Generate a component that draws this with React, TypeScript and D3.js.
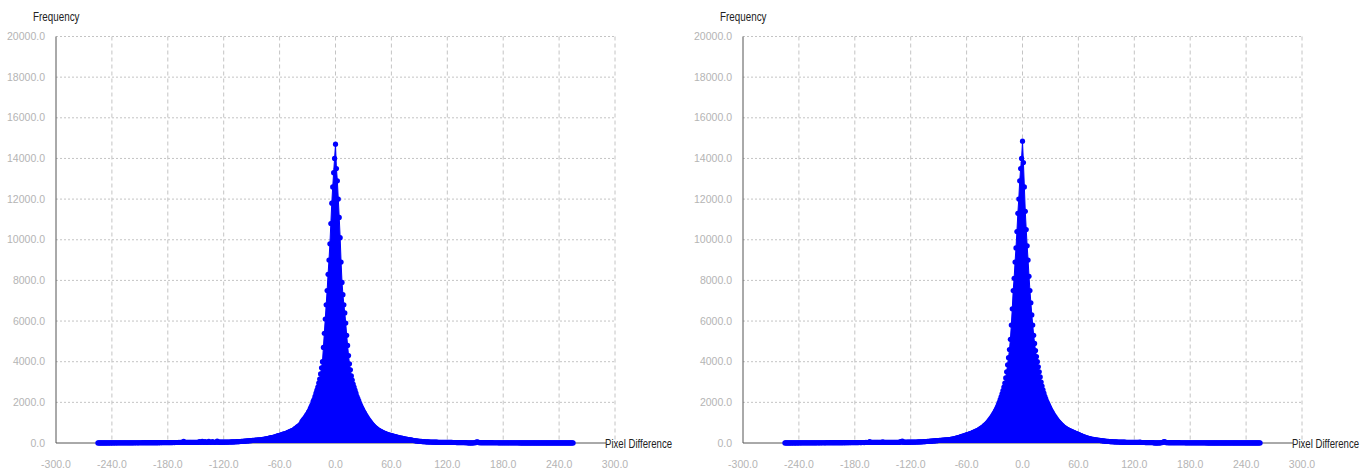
import React from "react";
import { select, scaleLinear, area, line } from "d3";

// x ticks and y ticks as printed on the chart
const pixelDiffTicks = [-300, -240, -180, -120, -60, 0, 60, 120, 180, 240, 300];
const freqTicks = [0, 2000, 4000, 6000, 8000, 10000, 12000, 14000, 16000, 18000, 20000];

// ---- left histogram ----
// -255 .. -81
const leftNegTail = [
  4, 3, 5, 4, 4, 5, 6, 4, 5, 6, 5, 6, 7, 5, 6, 7, 6, 7, 8, 6,
  7, 8, 7, 8, 9, 7, 8, 9, 8, 9, 10, 9, 10, 11, 9, 10, 11, 10, 11, 12,
  11, 12, 13, 11, 12, 13, 12, 13, 14, 13, 14, 15, 13, 14, 15, 14, 15, 16, 15, 16,
  17, 16, 17, 18, 17, 18, 19, 18, 19, 20, 19, 20, 21, 20, 21, 22, 21, 22, 23, 22,
  23, 24, 23, 24, 25, 24, 25, 26, 25, 26, 27, 26, 80, 27, 28, 27, 28, 29, 28, 29,
  30, 29, 30, 31, 30, 31, 32, 31, 32, 70, 33, 32, 85, 33, 34, 75, 34, 35, 34, 80,
  36, 35, 36, 65, 37, 38, 37, 38, 95, 39, 40, 39, 41, 42, 41, 43, 44, 43, 45, 46,
  47, 48, 50, 51, 53, 55, 57, 59, 61, 63, 66, 69, 72, 75, 78, 81, 85, 89, 93, 97,
  101, 105, 109, 113, 117, 121, 125, 129, 133, 137, 141, 145, 149, 153, 157,
];
// -80 .. 80
const leftCore = [
  160, 167, 175, 182, 190, 200, 210, 220, 230, 240, 250, 260, 270, 280, 290, 305, 320, 335, 350, 365,
  380, 390, 405, 420, 435, 450, 465, 480, 500, 520, 540, 560, 580, 600, 620, 640, 680, 720, 750, 790,
  820, 860, 890, 950, 1050, 1110, 1170, 1230, 1300, 1370, 1440, 1520, 1600, 1700, 1800, 1900, 2050, 2150, 2300, 2450,
  2600, 2750, 2950, 3150, 3400, 3700, 4000, 4700, 5400, 6100, 6800, 7500, 8300, 9000, 9800, 10800, 11800, 12600, 13300, 14000,
  14700,
  13500, 12900, 12000, 11100, 10100, 8900, 7900, 7300, 6800, 6400, 5900, 5300, 4800, 4300, 3900, 3600, 3300, 3100, 2900, 2750,
  2600, 2450, 2300, 2180, 2070, 1950, 1840, 1740, 1650, 1560, 1480, 1400, 1320, 1250, 1180, 1110, 1050, 990, 930, 880,
  830, 785, 745, 705, 670, 640, 610, 585, 560, 535, 512, 490, 470, 452, 435, 418, 402, 388, 374, 360,
  347, 334, 322, 310, 298, 287, 276, 265, 255, 245, 235, 225, 215, 206, 197, 188, 180, 172, 165, 158,
];
// 81 .. 255
const leftPosTail = [
  150, 140, 130, 122, 115, 108, 102, 96, 90, 85, 80, 76, 72, 68, 65, 62, 59, 56, 54, 52,
  50, 48, 46, 45, 44, 42, 41, 40, 39, 38, 37, 36, 35, 34, 33, 32, 31, 30, 30, 29,
  28, 28, 27, 26, 26, 25, 25, 24, 24, 23, 23, 22, 22, 21, 21, 20, 20, 19, 19, 18,
  12, 10, 8, 6, 5, 6, 8, 10, 12, 18, 45, 60, 50, 20, 18, 18, 17, 17, 17, 16,
  16, 16, 15, 15, 15, 14, 14, 14, 13, 13, 13, 12, 12, 12, 11, 11, 11, 10, 10, 10,
  10, 10, 9, 9, 9, 9, 8, 8, 8, 8, 8, 7, 7, 7, 7, 7, 7, 6, 6, 6,
  6, 6, 6, 6, 5, 5, 5, 5, 5, 5, 5, 5, 4, 4, 4, 4, 4, 4, 4, 4,
  4, 4, 4, 4, 3, 3, 3, 3, 3, 3, 3, 3, 3, 3, 3, 3, 2, 2, 2, 2,
  2, 2, 2, 2, 2, 2, 2, 2, 2, 2, 2, 2, 2, 2, 2,
];

// ---- right histogram ----
const rightNegTail = [
  5, 4, 4, 6, 5, 4, 6, 5, 7, 5, 6, 7, 6, 5, 7, 8, 6, 7, 8, 7,
  8, 7, 9, 8, 9, 8, 10, 9, 8, 10, 9, 11, 10, 9, 11, 12, 10, 11, 12, 11,
  12, 13, 12, 11, 13, 14, 12, 13, 15, 14, 13, 15, 16, 14, 15, 17, 16, 15, 17, 16,
  18, 17, 16, 18, 19, 17, 18, 20, 19, 18, 20, 21, 19, 20, 22, 21, 20, 22, 23, 21,
  24, 23, 22, 24, 25, 23, 24, 26, 25, 24, 26, 75, 25, 26, 28, 27, 26, 28, 29, 27,
  30, 29, 31, 30, 29, 60, 32, 31, 30, 33, 32, 31, 34, 33, 32, 35, 34, 33, 36, 35,
  34, 37, 36, 35, 70, 38, 90, 37, 39, 40, 38, 41, 42, 40, 43, 44, 42, 45, 46, 44,
  47, 49, 50, 52, 54, 56, 58, 60, 62, 65, 68, 71, 74, 77, 80, 84, 88, 92, 96, 100,
  104, 108, 112, 116, 120, 124, 128, 132, 136, 140, 144, 148, 151, 153, 155,
];
const rightCore = [
  155, 162, 168, 176, 186, 197, 208, 220, 232, 244, 256, 268, 280, 295, 310, 325, 340, 355, 370, 385,
  400, 415, 430, 445, 460, 480, 500, 520, 540, 560, 580, 600, 620, 650, 680, 710, 740, 770, 810, 850,
  890, 930, 980, 1030, 1090, 1150, 1210, 1280, 1350, 1420, 1500, 1580, 1670, 1770, 1880, 2000, 2130, 2270, 2420, 2580,
  2750, 2950, 3200, 3500, 3850, 4200, 4600, 5100, 5800, 6600, 7500, 8100, 8900, 9600, 10400, 11300, 12000, 12900, 13500, 14000,
  14850,
  13800, 12600, 11400, 10500, 9700, 9000, 8200, 7500, 6900, 6300, 5800, 5300, 4900, 4550, 4250, 4000, 3750, 3500, 3250, 3000,
  2800, 2620, 2450, 2300, 2170, 2050, 1950, 1850, 1750, 1660, 1570, 1490, 1410, 1340, 1270, 1200, 1140, 1080, 1030, 980,
  930, 880, 840, 800, 760, 730, 700, 670, 645, 620, 600, 580, 560, 540, 520, 500, 480, 460, 440, 420,
  400, 380, 360, 340, 320, 300, 285, 270, 255, 240, 228, 216, 205, 194, 184, 175, 167, 160, 153, 146,
];
const rightPosTail = [
  140, 132, 125, 118, 112, 106, 100, 95, 90, 85, 81, 77, 73, 70, 67, 64, 61, 58, 56, 54,
  52, 50, 48, 46, 45, 43, 42, 41, 40, 39, 38, 37, 36, 35, 34, 33, 32, 31, 31, 30,
  29, 29, 28, 27, 27, 40, 26, 25, 25, 24, 24, 23, 23, 22, 22, 21, 21, 20, 20, 19,
  8, 6, 5, 4, 5, 6, 8, 10, 15, 25, 50, 65, 55, 22, 19, 18, 18, 17, 17, 16,
  16, 16, 15, 15, 15, 14, 14, 14, 13, 13, 13, 12, 12, 12, 11, 11, 11, 10, 10, 10,
  10, 10, 9, 9, 9, 9, 8, 8, 8, 8, 8, 7, 7, 7, 7, 7, 7, 6, 6, 6,
  6, 6, 6, 6, 5, 5, 5, 5, 5, 5, 5, 5, 4, 4, 4, 4, 4, 4, 4, 4,
  4, 4, 4, 4, 3, 3, 3, 3, 3, 3, 3, 3, 3, 3, 3, 3, 2, 2, 2, 2,
  2, 2, 2, 2, 2, 2, 2, 2, 2, 2, 2, 2, 2, 2, 2,
];

const leftCounts = [...leftNegTail, ...leftCore, ...leftPosTail];
const rightCounts = [...rightNegTail, ...rightCore, ...rightPosTail];

const FONT = "'Liberation Sans', Arial, sans-serif";

interface Props {
  x0: number;
  counts: number[];
}

const Histogram = ({ x0, counts }: Props) => {
  const gRef = React.useRef<SVGGElement>(null);

  React.useEffect(() => {
    const g = select(gRef.current);
    const top = 36.5;
    const bottom = 443;

    const x = scaleLinear().domain([-300, 300]).range([x0, x0 + 559]);
    const y = scaleLinear().domain([0, 20000]).range([bottom, top]);

    const pts = counts.map((c, i) => ({ d: i - 255, c }));

    // grid
    g.append("g")
      .selectAll("line")
      .data(freqTicks.slice(1))
      .join("line")
      .attr("x1", x(-300))
      .attr("x2", x(300))
      .attr("y1", (d) => y(d))
      .attr("y2", (d) => y(d))
      .attr("stroke", "#c4c4c4")
      .attr("stroke-dasharray", "2,2");

    g.append("g")
      .selectAll("line")
      .data(pixelDiffTicks.slice(1))
      .join("line")
      .attr("x1", (d) => x(d))
      .attr("x2", (d) => x(d))
      .attr("y1", top)
      .attr("y2", bottom)
      .attr("stroke", "#c4c4c4")
      .attr("stroke-dasharray", "4,3");

    // axes
    g.append("line")
      .attr("x1", x(-300))
      .attr("x2", x(-300))
      .attr("y1", top)
      .attr("y2", bottom)
      .attr("stroke", "#555");
    g.append("line")
      .attr("x1", x(-300))
      .attr("x2", x0 + 550)
      .attr("y1", bottom)
      .attr("y2", bottom)
      .attr("stroke", "#555");

    // tick labels
    g.append("g")
      .selectAll("text")
      .data(freqTicks)
      .join("text")
      .attr("x", x0 - 11)
      .attr("y", (d) => y(d))
      .attr("dy", "0.35em")
      .attr("text-anchor", "end")
      .attr("font-family", FONT)
      .attr("font-size", 10.5)
      .attr("fill", "#b4b4b4")
      .text((d) => d.toFixed(1));

    g.append("g")
      .selectAll("text")
      .data(pixelDiffTicks)
      .join("text")
      .attr("x", (d) => x(d))
      .attr("y", 464)
      .attr("dy", "0.35em")
      .attr("text-anchor", "middle")
      .attr("font-family", FONT)
      .attr("font-size", 10.5)
      .attr("fill", "#b4b4b4")
      .text((d) => d.toFixed(1));

    // axis titles (narrow, squeezed horizontally)
    g.append("text")
      .attr("transform", `translate(${x0 - 23},17) scale(0.82,1)`)
      .attr("dy", "0.35em")
      .attr("font-family", FONT)
      .attr("font-size", 12)
      .attr("fill", "#222")
      .text("Frequency");

    g.append("text")
      .attr("transform", `translate(${x0 + 549},444) scale(0.8,1)`)
      .attr("dy", "0.35em")
      .attr("font-family", FONT)
      .attr("font-size", 12)
      .attr("fill", "#222")
      .text("Pixel Difference");

    // series
    const fill = area<{ d: number; c: number }>()
      .x((p) => x(p.d))
      .y0(bottom)
      .y1((p) => y(p.c));
    g.append("path").attr("d", fill(pts)).attr("fill", "#0000ff");

    const stroke = line<{ d: number; c: number }>()
      .x((p) => x(p.d))
      .y((p) => y(p.c));
    g.append("path")
      .attr("d", stroke(pts))
      .attr("fill", "none")
      .attr("stroke", "#0000ff")
      .attr("stroke-width", 1);

    g.append("g")
      .selectAll("circle")
      .data(pts)
      .join("circle")
      .attr("cx", (p) => x(p.d))
      .attr("cy", (p) => y(p.c))
      .attr("r", 2.6)
      .attr("fill", "#0000ff");

    return () => {
      g.selectAll("*").remove();
    };
  }, [x0, counts]);

  return <g ref={gRef} />;
};

export default function App() {
  return (
    <svg
      width={1366}
      height={470}
      style={{ position: "absolute", left: 0, top: 0, background: "#fff" }}
    >
      <Histogram x0={56} counts={leftCounts} />
      <Histogram x0={743} counts={rightCounts} />
    </svg>
  );
}
